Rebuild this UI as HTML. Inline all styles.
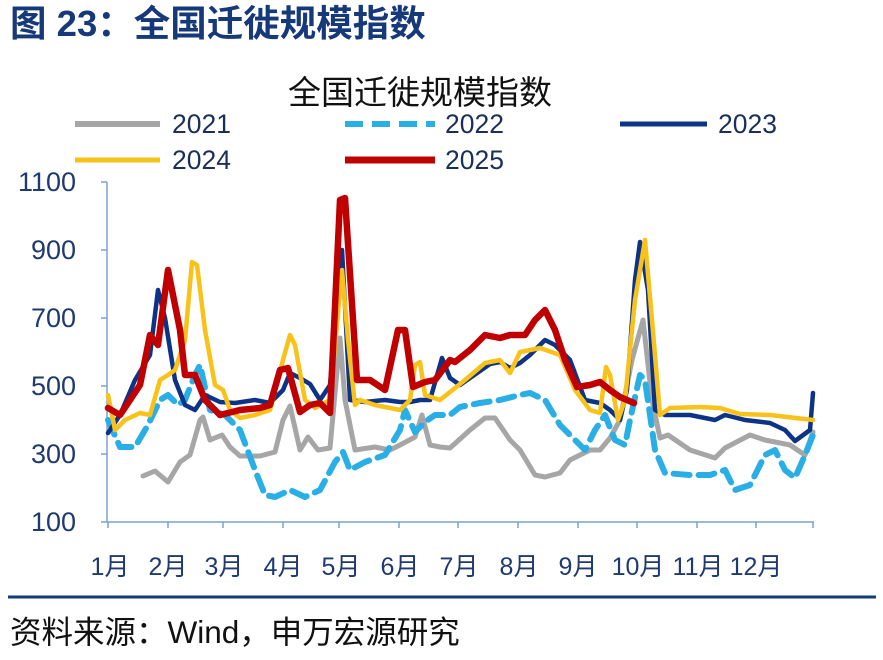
<!DOCTYPE html>
<html><head><meta charset="utf-8"><style>
body{margin:0;width:883px;height:655px;background:#fff;overflow:hidden;font-family:"Liberation Sans","Noto Sans CJK SC",sans-serif;}
</style></head><body>
<svg width="883" height="655" xmlns="http://www.w3.org/2000/svg" font-family="Liberation Sans, Noto Sans CJK SC, sans-serif">
<text x="10" y="36" font-size="36.5" font-weight="bold" fill="#16397a">图 23：全国迁徙规模指数</text>
<text x="420" y="104" font-size="33" fill="#111" text-anchor="middle">全国迁徙规模指数</text>
<g font-size="26.5" fill="#1a2f5a">
<line x1="75" y1="124" x2="160" y2="124" stroke="#a6a6a6" stroke-width="6"/><text x="172" y="133">2021</text>
<line x1="345" y1="124" x2="435" y2="124" stroke="#29aee6" stroke-width="6" stroke-dasharray="18,9"/><text x="445" y="133">2022</text>
<line x1="620" y1="124" x2="707" y2="124" stroke="#0d3386" stroke-width="5"/><text x="718" y="133">2023</text>
<line x1="75" y1="160" x2="160" y2="160" stroke="#f9c21a" stroke-width="5"/><text x="172" y="169">2024</text>
<line x1="345" y1="160" x2="435" y2="160" stroke="#c00000" stroke-width="7"/><text x="445" y="169">2025</text>
</g>
<g font-size="27" fill="#1f3a6e" text-anchor="end">
<text x="76" y="191">1100</text><text x="76" y="259">900</text><text x="76" y="327">700</text><text x="76" y="395">500</text><text x="76" y="463">300</text><text x="76" y="531">100</text>
</g>
<g stroke="#7aa3cf" stroke-width="1.5">
<line x1="107" y1="182" x2="107" y2="522"/><line x1="107" y1="522" x2="814" y2="522"/>
<line x1="101" y1="182" x2="107" y2="182"/><line x1="101" y1="250" x2="107" y2="250"/><line x1="101" y1="318" x2="107" y2="318"/><line x1="101" y1="386" x2="107" y2="386"/><line x1="101" y1="454" x2="107" y2="454"/><line x1="101" y1="522" x2="107" y2="522"/>
<path d="M108 522v6M168 522v6M223 522v6M283 522v6M339 522v6M399 522v6M458 522v6M518 522v6M578 522v6M637 522v6M697 522v6M756 522v6M813 522v6"/>
</g>
<g font-size="25" fill="#1f3a6e" text-anchor="middle">
<text x="110" y="575">1月</text><text x="168" y="575">2月</text><text x="224" y="575">3月</text><text x="283" y="575">4月</text><text x="341" y="575">5月</text><text x="400" y="575">6月</text><text x="459" y="575">7月</text><text x="519" y="575">8月</text><text x="578" y="575">9月</text><text x="638" y="575">10月</text><text x="698" y="575">11月</text><text x="756" y="575">12月</text>
</g>
<g fill="none" stroke-linejoin="round" stroke-linecap="round">
<polyline stroke="#a6a6a6" stroke-width="5" points="143,476 155,471 168,482 180,462 190,455 200,420 203,417 210,440 222,435 230,447 240,456 260,456 275,452 283,420 290,406 300,450 308,437 318,450 330,448 340,338 345,400 355,450 375,447 390,450 400,445 415,437 422,415 430,445 440,447 450,448 470,430 485,418 495,418 510,440 520,450 535,475 545,477 560,473 570,460 590,450 600,450 610,438 620,420 632,360 643,320 652,400 660,438 668,435 690,450 715,458 725,448 750,435 765,440 790,445 805,455 813,432"/>
<polyline stroke="#29aee6" stroke-width="6" stroke-dasharray="16,9" points="108,420 120,447 135,447 148,425 160,400 168,395 178,405 185,400 195,375 200,365 210,410 225,415 240,430 255,470 265,495 275,497 290,490 305,497 320,490 335,462 343,452 350,470 365,462 385,455 400,430 405,410 415,432 425,422 435,415 450,415 460,407 480,403 500,400 520,395 530,393 545,400 560,425 575,440 585,450 595,430 605,415 615,440 625,445 630,420 640,375 645,380 655,450 665,473 690,475 710,475 725,470 735,490 750,485 765,455 775,450 785,470 795,478 805,455 813,435"/>
<polyline stroke="#0d3386" stroke-width="4.5" points="108,433 120,415 135,380 150,355 158,290 165,318 175,380 185,405 195,410 205,395 220,402 235,403 255,400 270,403 275,398 283,390 290,373 300,378 310,384 320,400 330,385 342,250 350,400 365,402 385,400 400,402 410,402 420,400 430,400 442,358 450,378 460,385 490,364 500,362 510,368 520,363 530,355 545,340 555,345 570,360 585,400 600,403 610,410 620,420 627,390 635,280 640,242 648,290 655,410 665,415 690,415 715,420 725,415 745,420 770,423 785,430 795,441 810,430 813,393"/>
<polyline stroke="#f9c21a" stroke-width="4.5" points="108,395 115,430 125,420 140,413 150,415 160,380 168,375 175,370 185,340 192,262 197,265 205,330 215,385 223,390 230,410 240,418 255,415 270,410 283,360 290,335 295,345 305,400 315,408 330,400 342,270 348,340 355,405 360,400 375,405 400,410 410,400 415,365 420,362 425,395 440,400 455,388 465,380 485,363 500,360 510,373 520,352 540,348 560,355 575,390 590,410 600,413 606,367 610,375 618,420 625,400 635,300 645,240 652,320 660,415 670,408 700,407 720,408 740,414 770,415 813,420"/>
<polyline stroke="#c00000" stroke-width="6.5" points="108,408 120,415 140,385 150,335 158,345 168,270 180,330 185,375 195,375 205,400 220,415 240,410 260,408 270,405 280,370 288,368 300,412 310,405 320,403 330,413 340,200 345,198 357,380 370,380 385,390 398,330 405,330 413,387 425,382 435,380 450,360 455,362 470,350 485,335 500,338 510,335 525,335 535,320 545,310 555,330 565,360 577,387 590,385 600,382 610,390 620,397 634,403"/>
</g>
<line x1="8" y1="597" x2="876" y2="597" stroke="#16397a" stroke-width="3"/>
<text x="10" y="643" font-size="31.5" fill="#111">资料来源：Wind，申万宏源研究</text>
</svg>
</body></html>
